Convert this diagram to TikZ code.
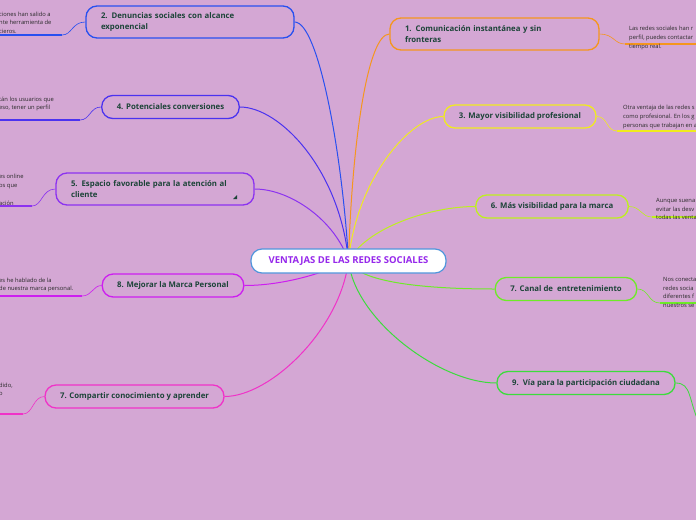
\documentclass[tikz,border=0pt]{standalone}
\usepackage{fontspec}
\setmainfont{Open Sans}
\definecolor{fondo}{RGB}{212,167,212}
\definecolor{oscuro}{RGB}{28,68,56}
\definecolor{gris}{RGB}{40,40,40}
\definecolor{celeste}{RGB}{80,150,220}
\definecolor{morado}{RGB}{150,40,235}
\definecolor{naranja}{RGB}{245,150,30}
\definecolor{azul}{RGB}{40,80,240}
\definecolor{anil}{RGB}{75,50,240}
\definecolor{violeta}{RGB}{140,50,240}
\definecolor{magenta}{RGB}{205,30,240}
\definecolor{rosa}{RGB}{240,50,200}
\definecolor{amarillo}{RGB}{240,235,30}
\definecolor{lima}{RGB}{190,240,30}
\definecolor{verde}{RGB}{110,235,40}
\definecolor{verdeb}{RGB}{60,220,60}
\pgfdeclarelayer{bg}
\pgfsetlayers{bg,main}
\tikzset{
  tema/.style={draw, rounded corners=11pt, line width=1.3pt, text=oscuro,
    font=\fontsize{7.8}{11}\selectfont\bfseries, minimum height=23pt, inner xsep=15pt},
  hoja/.style={inner sep=0pt, anchor=north west, align=left, text=gris,
    font=\fontsize{5.8}{8.8}\selectfont},
  rama/.style={line width=1pt},
  raya/.style={line width=2pt}
}
\begin{document}
\begin{tikzpicture}[x=1pt, y=-1pt]
\useasboundingbox (0,0) rectangle (696,520);
\clip (0,0) rectangle (696,520);

% Centre
\node[draw=celeste, fill=white, rounded corners=11pt, line width=1.2pt, minimum width=195pt,
  minimum height=24pt, text=morado, font=\fontsize{9.5}{11}\selectfont\bfseries]
  (centro) at (348.5,261) {VENTAJAS DE LAS REDES SOCIALES};

% Topics, right side
\node[tema, draw=naranja, minimum height=32pt, text width=179pt, align=left] (n1) at (494.5,34)
  {1. Comunicación instantánea y sin\\fronteras};
\node[tema, draw=amarillo, minimum width=148pt] (n3) at (520,116.5) {3. Mayor visibilidad profesional};
\node[tema, draw=lima, minimum width=150pt] (n6) at (552,206.5) {6. Más visibilidad para la marca};
\node[tema, draw=verde, minimum width=138pt] (n7r) at (566,289) {7. Canal de\ \ entretenimiento};
\node[tema, draw=verdeb, minimum width=178pt] (n9) at (586,383) {9.\ \ Vía para la participación ciudadana};

% Topics, left side
\node[tema, draw=azul, minimum height=32pt, text width=178pt, align=left] (n2) at (190,22)
  {2. Denuncias sociales con alcance\\exponencial};
\node[tema, draw=anil, minimum width=135pt] (n4) at (170.5,107) {4. Potenciales conversiones};
\node[tema, draw=violeta, minimum height=32pt, text width=168pt, align=left] (n5) at (155,189)
  {5. Espacio favorable para la atención al\\cliente};
\fill[oscuro] (233,199) -- (237,199) -- (237,195) -- cycle;
\node[tema, draw=magenta, minimum width=136pt] (n8) at (173,285.5) {8. Mejorar la Marca Personal};
\node[tema, draw=rosa, minimum width=175pt] (n7l) at (134.5,396.5) {7. Compartir conocimiento y aprender};

% Notes
\node[hoja] (h1) at (629,26) {Las redes sociales han r\\perfil, puedes contactar\\tiempo real.};
\node[hoja] (h3) at (623,105) {Otra ventaja de las redes s\\como profesional. En los g\\personas que trabajan en a};
\node[hoja] (h6) at (656,198) {Aunque suena\\evitar las desv\\todas las venta};
\node[hoja] (h7r) at (663,277) {Nos conecta\\redes socia\\diferentes f\\nuestros se};
\node[hoja] (h2) at (-1,11.5) {ciones han salido a\\nte herramienta de\\cieros.};
\node[hoja] (h4) at (-1,96.5) {tán los usuarios que\\eso, tener un perfil};
\node[hoja] (h5) at (-1,174) {es online\\os que\\~\\ación};
\node[hoja] (h8) at (-1,277.5) {es he hablado de la\\de nuestra marca personal.};
\node[hoja] (h7l) at (-1,382.5) {dido,\\o};

\coordinate (u1) at (625,44);   \coordinate (e1) at (700,44);
\coordinate (u3) at (617,131);  \coordinate (e3) at (700,131);
\coordinate (u6) at (652,217);  \coordinate (e6) at (700,217);
\coordinate (u7r) at (660,303); \coordinate (e7r) at (700,303);
\coordinate (e9) at (700,425);
\coordinate (u2) at (62,35);    \coordinate (e2) at (-5,35);
\coordinate (u4) at (80,120);   \coordinate (e4) at (-5,120);
\coordinate (u5) at (32,206);   \coordinate (e5) at (-5,206);
\coordinate (u8) at (82,296);   \coordinate (e8) at (-5,296);
\coordinate (u7l) at (23,414);  \coordinate (e7l) at (-5,414);

\begin{pgfonlayer}{bg}
\fill[fondo] (0,0) rectangle (696,520);

% Branches
\draw[rama, naranja] (centro.center) .. controls (352,140) and (368,34) .. (n1.west);
\draw[rama, amarillo] (centro.center) .. controls (356,180) and (410,116.5) .. (n3.west);
\draw[rama, lima] (centro.center) .. controls (366,228) and (430,206.5) .. (n6.west);
\draw[rama, verde] (centro.center) .. controls (360,285) and (440,289) .. (n7r.west);
\draw[rama, verdeb] (centro.center) .. controls (355,320) and (440,383) .. (n9.west);
\draw[rama, azul] (centro.center) .. controls (342,150) and (318,22) .. (n2.east);
\draw[rama, anil] (centro.center) .. controls (340,170) and (280,107) .. (n4.east);
\draw[rama, violeta] (centro.center) .. controls (335,220) and (290,189) .. (n5.east);
\draw[rama, magenta] (centro.center) .. controls (320,275) and (280,285.5) .. (n8.east);
\draw[rama, rosa] (centro.center) .. controls (340,330) and (270,396.5) .. (n7l.east);

% Note links
\draw[naranja, line width=0.6pt] (n1.east) .. controls (614,34) and (614,44) .. (u1);
\draw[raya, naranja] (u1) -- (e1);
\draw[amarillo, line width=0.6pt] (n3.east) .. controls (608,116.5) and (606,131) .. (u3);
\draw[raya, amarillo] (u3) -- (e3);
\draw[lima, line width=0.6pt] (n6.east) .. controls (641,206.5) and (641,217) .. (u6);
\draw[raya, lima] (u6) -- (e6);
\draw[verde, line width=0.6pt] (n7r.east) .. controls (649,289) and (648,303) .. (u7r);
\draw[raya, verde] (u7r) -- (e7r);
\draw[verdeb, line width=0.8pt] (n9.east) .. controls (692,383) and (688,400) .. (e9);
\draw[azul, line width=0.6pt] (n2.west) .. controls (72,22) and (72,35) .. (u2);
\draw[raya, azul] (u2) -- (e2);
\draw[anil, line width=0.6pt] (n4.west) .. controls (90,107) and (90,120) .. (u4);
\draw[raya, anil] (u4) -- (e4);
\draw[violeta, line width=0.6pt] (n5.west) .. controls (42,189) and (42,206) .. (u5);
\draw[raya, violeta] (u5) -- (e5);
\draw[magenta, line width=0.6pt] (n8.west) .. controls (93,285.5) and (92,296) .. (u8);
\draw[raya, magenta] (u8) -- (e8);
\draw[rosa, line width=0.6pt] (n7l.west) .. controls (33,396.5) and (33,414) .. (u7l);
\draw[raya, rosa] (u7l) -- (e7l);
\end{pgfonlayer}
\end{tikzpicture}
\end{document}
